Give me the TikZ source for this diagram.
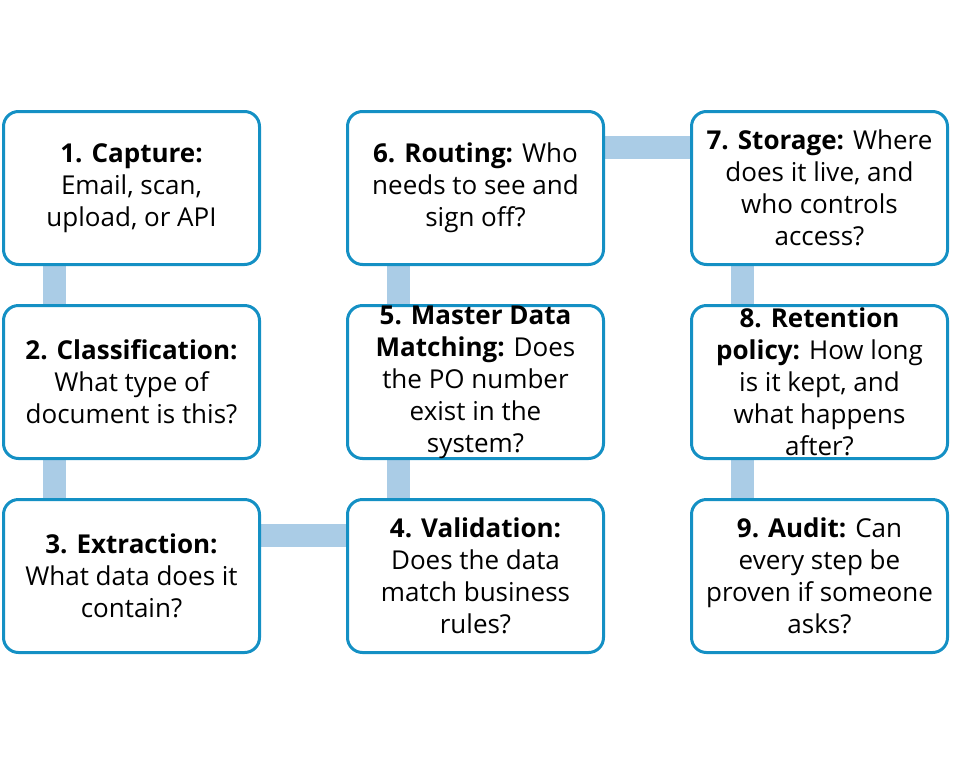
\documentclass[tikz,border=0pt]{standalone}
\usepackage{fontspec}
\setmainfont{Open Sans}
\usetikzlibrary{backgrounds}
\definecolor{boxline}{HTML}{1490C4}
\definecolor{barfill}{HTML}{AACCE6}
\tikzset{
  stepbox/.style={draw=boxline, line width=3pt, fill=white, rounded corners=15pt,
    minimum width=256pt, minimum height=153pt, inner sep=0pt, anchor=north west},
  steptext/.style={align=center, font=\fontsize{26}{32}\selectfont, inner sep=0pt},
  bar/.style={draw=barfill, line width=23pt}
}
\begin{document}
\begin{tikzpicture}[x=1pt,y=-1pt]
\useasboundingbox (0,0) rectangle (959,761);
\node[stepbox] (b1) at (2,110) {};
\node[stepbox] (b2) at (2,304) {};
\node[stepbox] (b3) at (2,498) {};
\node[stepbox] (b4) at (346,498) {};
\node[stepbox] (b5) at (346,304) {};
\node[stepbox] (b6) at (346,110) {};
\node[stepbox] (b7) at (690,110) {};
\node[stepbox] (b8) at (690,304) {};
\node[stepbox] (b9) at (690,498) {};
\begin{scope}[on background layer]
\draw[bar] ([xshift=52pt]b1.south west) -- ([xshift=52pt]b2.north west);
\draw[bar] ([xshift=52pt]b2.south west) -- ([xshift=52pt]b3.north west);
\draw[bar] ([yshift=-37pt]b3.north east) -- ([yshift=-37pt]b4.north west);
\draw[bar] ([xshift=52pt]b4.north west) -- ([xshift=52pt]b5.south west);
\draw[bar] ([xshift=52pt]b5.north west) -- ([xshift=52pt]b6.south west);
\draw[bar] ([yshift=-37pt]b6.north east) -- ([yshift=-37pt]b7.north west);
\draw[bar] ([xshift=52pt]b7.south west) -- ([xshift=52pt]b8.north west);
\draw[bar] ([xshift=52pt]b8.south west) -- ([xshift=52pt]b9.north west);
\end{scope}
\node[steptext] (t1) at (b1.center) {\textbf{1. Capture:}\\Email, scan,\\upload, or API};
\node[steptext] (t2) at (b2.center) {\textbf{2. Classification:}\\What type of\\document is this?};
\node[steptext] (t3) at (b3.center) {\textbf{3. Extraction:}\\What data does it\\contain?};
\node[steptext] (t4) at (b4.center) {\textbf{4. Validation:}\\Does the data\\match business\\rules?};
\node[steptext] (t5) at (b5.center) {\textbf{5. Master Data}\\\textbf{Matching:} Does\\the PO number\\exist in the\\system?};
\node[steptext] (t6) at (b6.center) {\textbf{6. Routing:} Who\\needs to see and\\sign off?};
\node[steptext] (t7) at (b7.center) {\textbf{7. Storage:} Where\\does it live, and\\who controls\\access?};
\node[steptext] (t8) at (b8.center) {\textbf{8. Retention}\\\textbf{policy:} How long\\is it kept, and\\what happens\\after?};
\node[steptext] (t9) at (b9.center) {\textbf{9. Audit:} Can\\every step be\\proven if someone\\asks?};
\end{tikzpicture}
\end{document}
